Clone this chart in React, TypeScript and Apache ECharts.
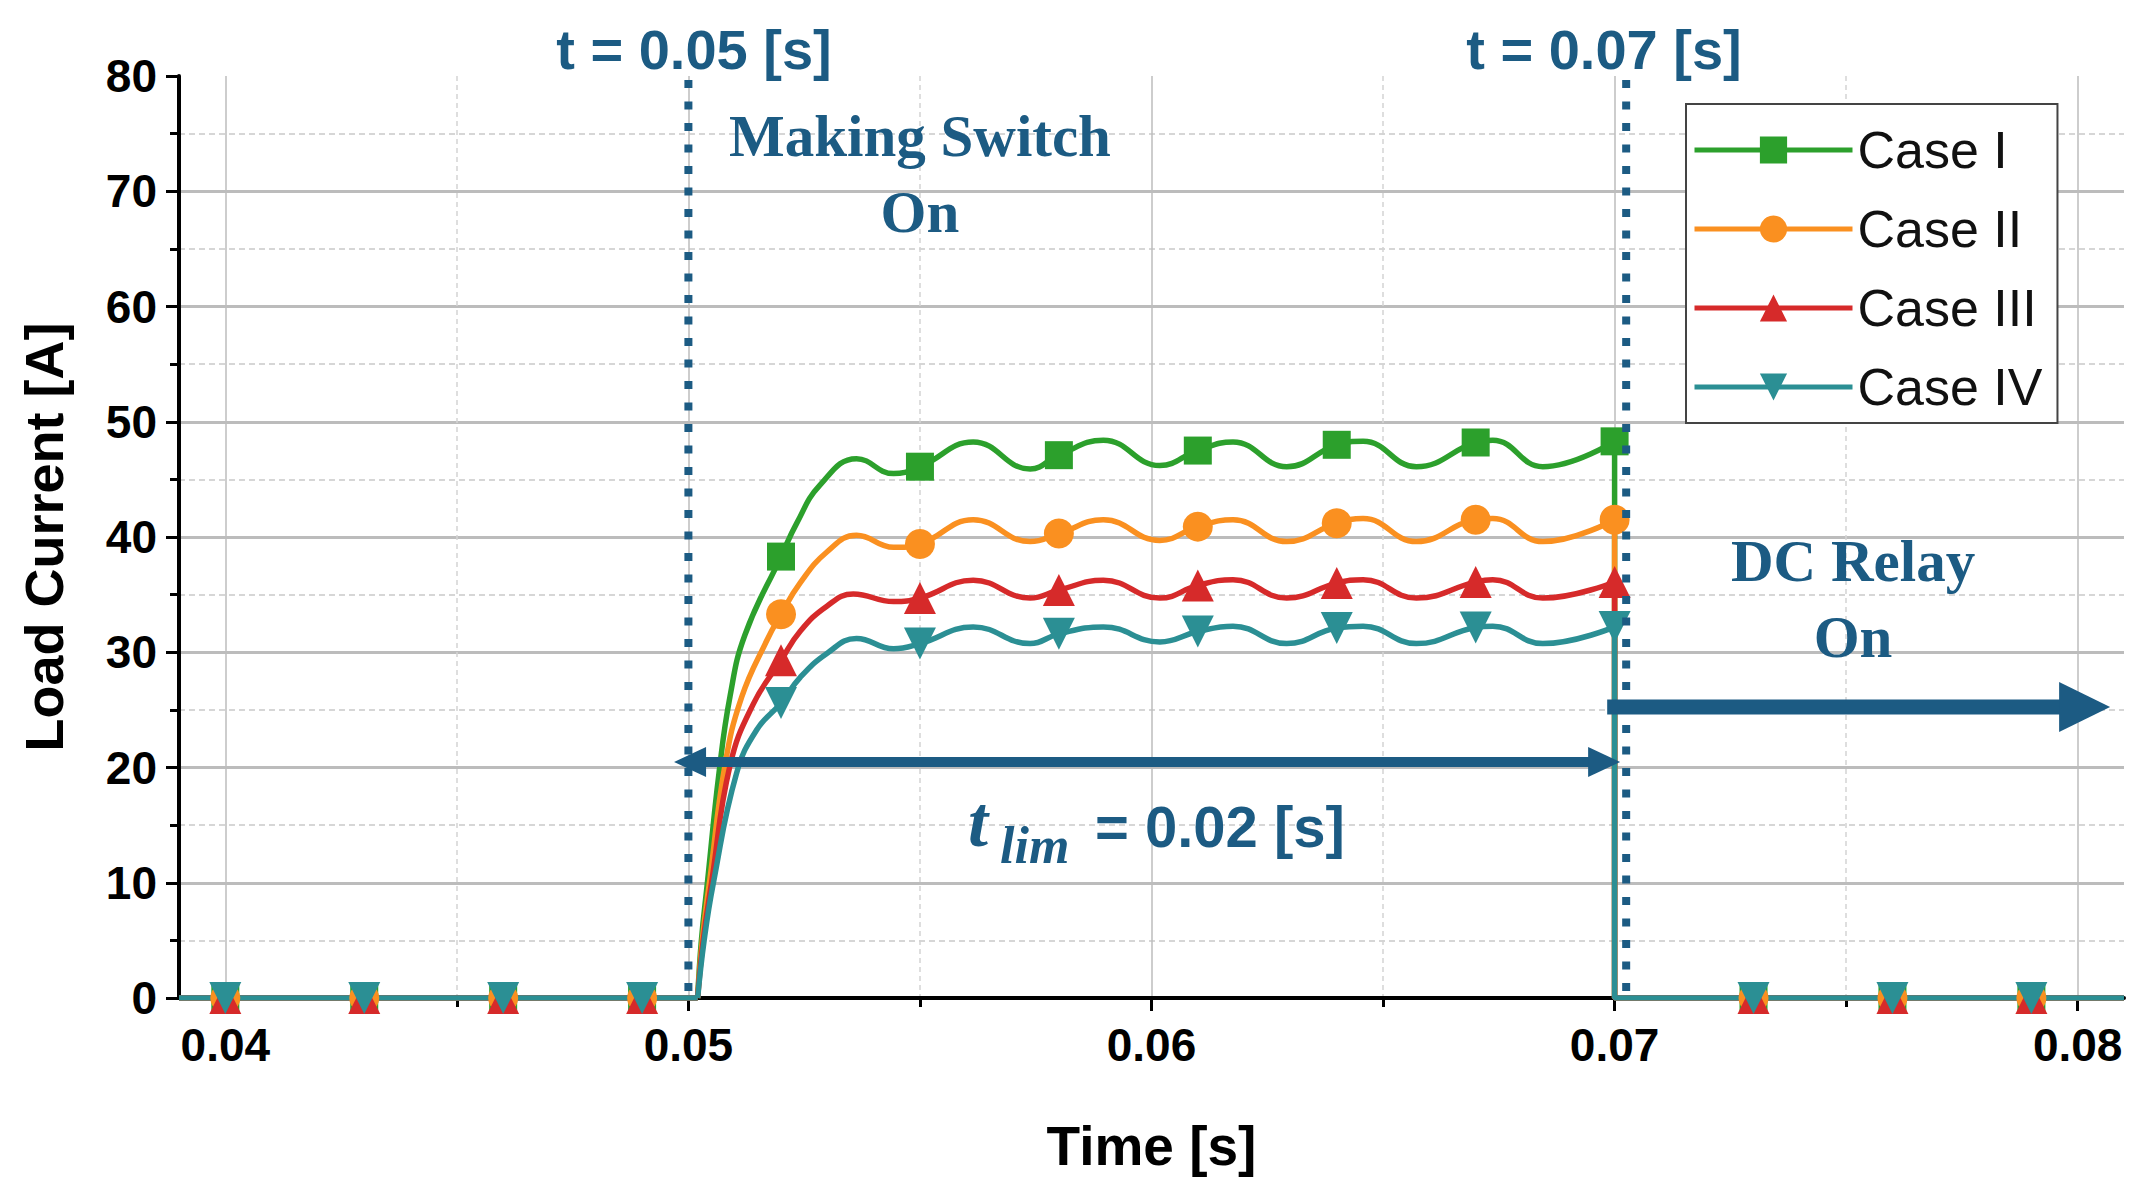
import React, { useEffect, useRef } from "react";
import * as echarts from "echarts";

// ---------- layout ----------
const W = 2152;
const H = 1188;
const GRID = { left: 179, right: 28, top: 76, bottom: 190 };
const X_MIN = 0.039;
const X_MAX = 0.081;
const TICK_MIN = 0.04;
const TICK_MAX = 0.08;

// ---------- data ----------
const caseNames = ["Case I", "Case II", "Case III", "Case IV"];
const caseColors = ["#2ca02c", "#fa9020", "#d62a2a", "#2b8f94"];
const caseSymbols = ["rect", "circle", "triangle", "triangle"];
const caseSymbolRotate = [0, 0, 0, 180];
const caseSymbolSize = [28, 30, 32, 32];

const markerTimes = [0.04, 0.043, 0.046, 0.049, 0.052, 0.055, 0.058, 0.061, 0.064, 0.067, 0.07, 0.073, 0.076, 0.079];

const zeroBeforeTimes = [0.039, 0.04, 0.043, 0.046, 0.049, 0.0502];
const zeroAfterTimes = [0.07, 0.073, 0.076, 0.079, 0.081];

const case1Time = [0.0502, 0.05028, 0.05041, 0.05066, 0.0509, 0.05122, 0.052, 0.05234, 0.05284, 0.05363, 0.05443, 0.055, 0.05615, 0.05738, 0.058, 0.05896, 0.06018, 0.061, 0.06176, 0.06292, 0.064, 0.06457, 0.06572, 0.067, 0.06737, 0.06845, 0.07];
const case1Current = [0, 5.0, 10.0, 19.5, 26.2, 31.5, 38.3, 41.2, 44.5, 46.8, 45.5, 46.1, 48.25, 45.9, 47.1, 48.4, 46.2, 47.5, 48.25, 46.1, 48.0, 48.3, 46.1, 48.2, 48.4, 46.1, 48.3];

const case2Time = [0.0502, 0.0503, 0.05047, 0.05079, 0.05115, 0.05169, 0.052, 0.05241, 0.05299, 0.05363, 0.05443, 0.055, 0.05615, 0.05738, 0.058, 0.05896, 0.06018, 0.061, 0.06176, 0.06292, 0.064, 0.06457, 0.06572, 0.067, 0.06737, 0.06845, 0.07];
const case2Current = [0, 5.0, 10.5, 20.2, 26.1, 31.0, 33.3, 36.0, 38.7, 40.15, 39.1, 39.4, 41.5, 39.6, 40.3, 41.5, 39.7, 40.9, 41.5, 39.6, 41.2, 41.6, 39.6, 41.5, 41.6, 39.6, 41.5];

const case3Time = [0.0502, 0.05032, 0.0505, 0.0509, 0.0514, 0.052, 0.05241, 0.05299, 0.05356, 0.05443, 0.055, 0.05615, 0.05738, 0.058, 0.05896, 0.06018, 0.061, 0.06176, 0.06292, 0.064, 0.06457, 0.06572, 0.067, 0.06737, 0.06845, 0.07];
const case3Current = [0, 5.0, 10.0, 20.2, 25.5, 29.3, 31.8, 34.0, 35.05, 34.4, 34.7, 36.25, 34.7, 35.4, 36.25, 34.7, 35.8, 36.3, 34.7, 36.0, 36.3, 34.7, 36.1, 36.3, 34.7, 36.1];

const case4Time = [0.0502, 0.05034, 0.05054, 0.05104, 0.05148, 0.052, 0.05241, 0.05299, 0.05363, 0.05443, 0.055, 0.05615, 0.05738, 0.058, 0.05896, 0.06018, 0.061, 0.06176, 0.06292, 0.064, 0.06457, 0.06572, 0.067, 0.06737, 0.06845, 0.07];
const case4Current = [0, 5.0, 10.0, 19.5, 23.3, 25.6, 27.8, 29.9, 31.2, 30.3, 30.75, 32.2, 30.75, 31.6, 32.2, 30.9, 31.8, 32.26, 30.75, 32.1, 32.26, 30.75, 32.15, 32.26, 30.75, 32.2];

const caseTimes = [case1Time, case2Time, case3Time, case4Time];
const caseCurrents = [case1Current, case2Current, case3Current, case4Current];

// annotation anchors (data coordinates: [time, current])
const switchOnTime = 0.05;
const relayOnTime = 0.07025;
const topLabelAnchors = [[0.05012, 82.3], [0.06977, 82.3]];
const topLabelTexts = ["t = 0.05 [s]", "t = 0.07 [s]"];
const makingAnchor = [0.055, 71.5];
const relayAnchor = [0.07515, 34.6];
const limArrow = { from: 0.04969, to: 0.07012, current: 20.48 };
const relayArrow = { from: 0.06984, to: 0.0807, current: 25.25 };
const tAnchor = [0.05604, 15.27];
const subAnchor = [0.05673, 13.23];
const eqAnchor = [0.05878, 14.84];

const ANNOT = "#1c5b83";
const SANS = '"Liberation Sans", Arial, sans-serif';
const SERIF = '"Liberation Serif", "Times New Roman", serif';

function isMarker(t: number) {
  return markerTimes.some((m) => Math.abs(m - t) < 1e-7);
}

function buildItems(times: number[], values: number[], size: number, allow: (t: number, i: number) => boolean) {
  return times.map((t, i) => {
    const show = isMarker(t) && allow(t, i);
    return show ? { value: [t, values[i]], symbolSize: size } : { value: [t, values[i]], symbol: "none" };
  });
}

function buildSeries() {
  const out: any[] = [];
  caseNames.forEach((name, k) => {
    const base = {
      name,
      type: "line",
      xAxisIndex: 0,
      yAxisIndex: 0,
      symbol: caseSymbols[k],
      symbolRotate: caseSymbolRotate[k],
      symbolSize: caseSymbolSize[k],
      showAllSymbol: true,
      color: caseColors[k],
      lineStyle: { width: 5.5, color: caseColors[k] },
      itemStyle: { color: caseColors[k] },
      emphasis: { disabled: true },
      silent: true,
    };
    const times = caseTimes[k];
    const vals = caseCurrents[k];
    out.push({
      ...base,
      smooth: 0.45,
      data: buildItems(times, vals, caseSymbolSize[k], () => true),
    });
    out.push({
      ...base,
      smooth: false,
      data: buildItems(zeroBeforeTimes, zeroBeforeTimes.map(() => 0), caseSymbolSize[k], () => true),
    });
    const topVal = vals[vals.length - 1];
    const afterTimes = [zeroAfterTimes[0], ...zeroAfterTimes];
    const afterVals = [topVal, ...zeroAfterTimes.map(() => 0)];
    out.push({
      ...base,
      smooth: false,
      data: buildItems(afterTimes, afterVals, caseSymbolSize[k], (t) => t > 0.0705),
    });
  });
  return out;
}

function buildOption() {
  const plotW = W - GRID.left - GRID.right;
  const ppu = plotW / (X_MAX - X_MIN);
  const tickLeft = GRID.left + (TICK_MIN - X_MIN) * ppu;
  const tickRight = W - (GRID.left + (TICK_MAX - X_MIN) * ppu);

  return {
    animation: false,
    backgroundColor: "#ffffff",
    grid: [
      { left: GRID.left, right: GRID.right, top: GRID.top, bottom: GRID.bottom, containLabel: false },
      { left: tickLeft, right: tickRight, top: GRID.top, bottom: GRID.bottom, containLabel: false },
    ],
    xAxis: [
      {
        type: "value",
        gridIndex: 0,
        min: X_MIN,
        max: X_MAX,
        axisLine: { show: true, onZero: false, lineStyle: { color: "#000", width: 4 } },
        axisTick: { show: false },
        axisLabel: { show: false },
        splitLine: { show: false },
        name: "Time [s]",
        nameLocation: "middle",
        nameGap: 120,
        nameTextStyle: { fontSize: 55, fontWeight: "bold", fontFamily: SANS, color: "#000" },
      },
      {
        type: "value",
        gridIndex: 1,
        min: TICK_MIN,
        max: TICK_MAX,
        interval: 0.01,
        axisLine: { show: false },
        axisTick: { show: true, inside: false, length: 13, lineStyle: { color: "#000", width: 3 } },
        minorTick: { show: true, splitNumber: 2, length: 9, lineStyle: { color: "#000", width: 3 } },
        axisLabel: {
          show: true,
          margin: 24,
          fontSize: 46,
          fontWeight: "bold",
          fontFamily: SANS,
          color: "#000",
          formatter: (v: number) => v.toFixed(2),
        },
        splitLine: { show: true, lineStyle: { color: "#bdbdbd", width: 1.5 } },
        minorSplitLine: { show: true, lineStyle: { color: "#d4d4d4", width: 1.5, type: [5, 4] } },
      },
    ],
    yAxis: [
      {
        type: "value",
        gridIndex: 0,
        min: 0,
        max: 80,
        interval: 10,
        axisLine: { show: true, onZero: false, lineStyle: { color: "#000", width: 4 } },
        axisTick: { show: true, inside: false, length: 13, lineStyle: { color: "#000", width: 3 } },
        minorTick: { show: true, splitNumber: 2, length: 9, lineStyle: { color: "#000", width: 3 } },
        axisLabel: { margin: 22, fontSize: 46, fontWeight: "bold", fontFamily: SANS, color: "#000" },
        splitLine: { show: true, showMaxLine: false, lineStyle: { color: "#bcbcbc", width: 3 } },
        minorSplitLine: { show: true, lineStyle: { color: "#d6d6d6", width: 2, type: [6, 4] } },
        name: "Load Current [A]",
        nameLocation: "middle",
        nameGap: 108,
        nameTextStyle: { fontSize: 54, fontWeight: "bold", fontFamily: SANS, color: "#000" },
      },
      {
        type: "value",
        gridIndex: 1,
        min: 0,
        max: 80,
        show: false,
      },
    ],
    legend: {
      show: true,
      data: caseNames,
      orient: "vertical",
      left: 1686,
      top: 104,
      padding: [20, 15, 10, 6],
      itemWidth: 158,
      itemHeight: 34,
      itemGap: 27,
      selectedMode: false,
      backgroundColor: "#ffffff",
      borderColor: "#444",
      borderWidth: 2,
      borderRadius: 0,
      lineStyle: { width: 5 },
      textStyle: { fontSize: 52, lineHeight: 52, fontFamily: SANS, color: "#111" },
    },
    series: buildSeries(),
  };
}

function buildGraphic(chart: any) {
  const p = (pt: number[]) => chart.convertToPixel({ gridIndex: 0 }, pt) as number[];
  const els: any[] = [];

  // dotted vertical lines
  [switchOnTime, relayOnTime].forEach((t) => {
    const a = p([t, 80]);
    const b = p([t, 0]);
    els.push({
      type: "line",
      silent: true,
      z: 5,
      shape: { x1: a[0], y1: a[1] + 4, x2: b[0], y2: b[1] },
      style: { stroke: ANNOT, lineWidth: 8, lineDash: [8, 13.5] },
    });
  });

  // top labels
  topLabelAnchors.forEach((anc, i) => {
    const c = p(anc);
    els.push({
      type: "text",
      silent: true,
      z: 6,
      x: c[0],
      y: c[1],
      style: {
        text: topLabelTexts[i],
        fontSize: 56,
        fontWeight: "bold",
        fontFamily: SANS,
        fill: ANNOT,
        align: "center",
        verticalAlign: "middle",
      },
    });
  });

  // Making Switch On
  const m = p(makingAnchor);
  els.push({
    type: "text",
    silent: true,
    z: 6,
    x: m[0],
    y: m[1],
    style: {
      text: "Making Switch\nOn",
      fontSize: 59,
      fontWeight: "bold",
      fontFamily: SERIF,
      lineHeight: 76,
      fill: ANNOT,
      align: "center",
      verticalAlign: "middle",
    },
  });

  // DC Relay On
  const r = p(relayAnchor);
  els.push({
    type: "text",
    silent: true,
    z: 6,
    x: r[0],
    y: r[1],
    style: {
      text: "DC Relay\nOn",
      fontSize: 59,
      fontWeight: "bold",
      fontFamily: SERIF,
      lineHeight: 76,
      fill: ANNOT,
      align: "center",
      verticalAlign: "middle",
    },
  });

  // t_lim double arrow
  const L = p([limArrow.from, limArrow.current]);
  const R = p([limArrow.to, limArrow.current]);
  const headL = 32;
  const headH = 15;
  els.push({
    type: "line",
    silent: true,
    z: 6,
    shape: { x1: L[0] + headL - 2, y1: L[1], x2: R[0] - headL + 2, y2: R[1] },
    style: { stroke: ANNOT, lineWidth: 10 },
  });
  els.push({
    type: "polygon",
    silent: true,
    z: 6,
    shape: { points: [[L[0], L[1]], [L[0] + headL, L[1] - headH], [L[0] + headL, L[1] + headH]] },
    style: { fill: ANNOT },
  });
  els.push({
    type: "polygon",
    silent: true,
    z: 6,
    shape: { points: [[R[0], R[1]], [R[0] - headL, R[1] - headH], [R[0] - headL, R[1] + headH]] },
    style: { fill: ANNOT },
  });

  // relay arrow
  const S = p([relayArrow.from, relayArrow.current]);
  const T = p([relayArrow.to, relayArrow.current]);
  const hl = 51;
  const hh = 25;
  els.push({
    type: "line",
    silent: true,
    z: 6,
    shape: { x1: S[0], y1: S[1], x2: T[0] - hl + 2, y2: T[1] },
    style: { stroke: ANNOT, lineWidth: 15 },
  });
  els.push({
    type: "polygon",
    silent: true,
    z: 6,
    shape: { points: [[T[0], T[1]], [T[0] - hl, T[1] - hh], [T[0] - hl, T[1] + hh]] },
    style: { fill: ANNOT },
  });

  // t_lim = 0.02 [s]
  const tp = p(tAnchor);
  els.push({
    type: "text",
    silent: true,
    z: 6,
    x: tp[0],
    y: tp[1],
    style: {
      text: "t",
      fontSize: 72,
      fontStyle: "italic",
      fontWeight: "bold",
      fontFamily: SERIF,
      fill: ANNOT,
      align: "left",
      verticalAlign: "middle",
    },
  });
  const sp = p(subAnchor);
  els.push({
    type: "text",
    silent: true,
    z: 6,
    x: sp[0],
    y: sp[1],
    style: {
      text: "lim",
      fontSize: 52,
      fontStyle: "italic",
      fontWeight: "bold",
      fontFamily: SERIF,
      fill: ANNOT,
      align: "left",
      verticalAlign: "middle",
    },
  });
  const ep = p(eqAnchor);
  els.push({
    type: "text",
    silent: true,
    z: 6,
    x: ep[0],
    y: ep[1],
    style: {
      text: "= 0.02 [s]",
      fontSize: 58,
      fontWeight: "bold",
      fontFamily: SANS,
      fill: ANNOT,
      align: "left",
      verticalAlign: "middle",
    },
  });

  return els;
}

export default function App() {
  const ref = useRef<HTMLDivElement | null>(null);
  useEffect(() => {
    if (!ref.current) return;
    const chart = echarts.init(ref.current, null, { renderer: "svg", width: W, height: H });
    chart.setOption(buildOption() as any);
    chart.setOption({ graphic: buildGraphic(chart) } as any);
    return () => {
      chart.dispose();
    };
  }, []);
  return (
    <div
      ref={ref}
      style={{ position: "fixed", left: 0, top: 0, width: W, height: H, background: "#fff" }}
    />
  );
}
